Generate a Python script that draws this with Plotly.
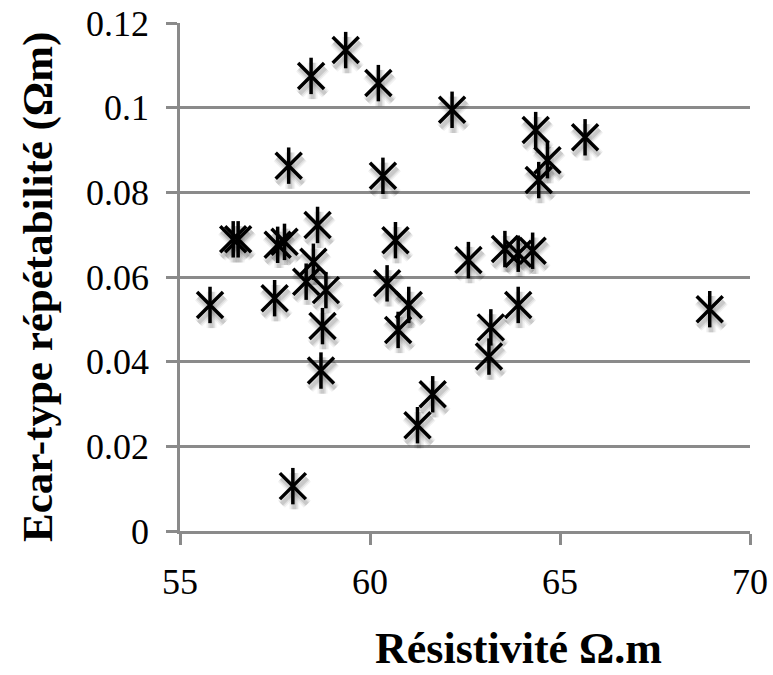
import plotly.graph_objects as go

# Résistivité (Ω.m) et écart-type de répétabilité (Ω.m) par mesure
resistivite = [
    58.45, 59.36, 60.22, 62.16, 57.86, 60.34,
    56.40, 56.53, 57.57, 57.75, 58.62, 58.51, 60.67, 62.59,
    64.36, 65.66, 64.67, 64.44, 63.55, 63.90, 64.28,
    55.79, 57.49, 58.32, 58.84, 58.75, 58.71, 57.97,
    60.45, 61.02, 60.74, 61.65, 61.25,
    63.90, 63.18, 63.13, 68.94,
]
ecart_type = [
    0.1075, 0.1136, 0.1058, 0.0995, 0.0863, 0.0839,
    0.0689, 0.0689, 0.0676, 0.0683, 0.0723, 0.0636, 0.0687, 0.0640,
    0.0947, 0.0930, 0.0876, 0.0829, 0.0666, 0.0655, 0.0662,
    0.0534, 0.0550, 0.0589, 0.0569, 0.0484, 0.0379, 0.0106,
    0.0585, 0.0534, 0.0475, 0.0323, 0.0250,
    0.0534, 0.0481, 0.0412, 0.0524,
]

x_range = [55, 70]
y_range = [0, 0.12]
x_ticks = [55, 60, 65, 70]
y_ticks = [0, 0.02, 0.04, 0.06, 0.08, 0.1, 0.12]
y_ticktext = ["0", "0.02", "0.04", "0.06", "0.08", "0.1", "0.12"]

W, H = 773, 675
M = dict(l=180, r=23, t=23, b=144)
plot_w = W - M["l"] - M["r"]
plot_h = H - M["t"] - M["b"]

GREY = "#8a8a8a"
FONT = "Liberation Serif, Times New Roman, serif"
STAR_SIZE = 26

fig = go.Figure()

# soft drop shadow: same points on overlaid axes shifted a few pixels
dx_px, dy_px = 1.5, 5.0
dx = dx_px * (x_range[1] - x_range[0]) / plot_w
dy = dy_px * (y_range[1] - y_range[0]) / plot_h
for width, alpha in [(10, 0.05), (7, 0.07), (4, 0.10)]:
    for sym in ["x-thin-open", "line-ns-open"]:
        shade = f"rgba(0,0,0,{alpha})"
        fig.add_trace(go.Scatter(
            x=resistivite, y=ecart_type, mode="markers",
            xaxis="x2", yaxis="y2", hoverinfo="skip", showlegend=False,
            marker=dict(symbol=sym, size=STAR_SIZE, color=shade,
                        line=dict(width=width, color=shade)),
        ))

# star markers: an X plus a vertical bar
for sym in ["x-thin-open", "line-ns-open"]:
    fig.add_trace(go.Scatter(
        x=resistivite, y=ecart_type, mode="markers", showlegend=False,
        marker=dict(symbol=sym, size=STAR_SIZE, color="black",
                    line=dict(width=3.5, color="black")),
        cliponaxis=False,
    ))

fig.update_layout(
    width=W, height=H, margin=M,
    paper_bgcolor="white", plot_bgcolor="white",
    font=dict(family=FONT, size=36, color="black"),
    xaxis=dict(
        range=x_range, tickvals=x_ticks, showgrid=False, zeroline=False,
        showline=True, linecolor=GREY, linewidth=2.5, automargin=False,
        ticks="outside", ticklen=11, tickwidth=2.5, tickcolor=GREY,
        ticklabelstandoff=6,
        tickfont=dict(family=FONT, size=36, color="black"),
    ),
    yaxis=dict(
        range=y_range, tickvals=y_ticks, ticktext=y_ticktext,
        showgrid=True, gridcolor=GREY, gridwidth=2.5, zeroline=False,
        showline=True, linecolor=GREY, linewidth=2.5, automargin=False,
        ticks="outside", ticklen=11, tickwidth=2.5, tickcolor=GREY,
        ticklabelstandoff=10,
        tickfont=dict(family=FONT, size=36, color="black"),
    ),
    xaxis2=dict(range=[x_range[0] - dx, x_range[1] - dx], overlaying="x",
                visible=False, fixedrange=True),
    yaxis2=dict(range=[y_range[0] + dy, y_range[1] + dy], overlaying="y",
                visible=False, fixedrange=True),
    annotations=[
        dict(text="<b>Résistivité Ω.m</b>", xref="paper", yref="paper",
             x=(518 - M["l"]) / plot_w, y=-(648 - (H - M["b"])) / plot_h,
             xanchor="center", yanchor="middle", showarrow=False,
             font=dict(family=FONT, size=44, color="black")),
        dict(text="<b>Ecar-type répétabilité (Ωm)</b>", xref="paper", yref="paper",
             x=-(M["l"] - 38) / plot_w, y=1 - (287 - M["t"]) / plot_h,
             xanchor="center", yanchor="middle", textangle=-90, showarrow=False,
             font=dict(family=FONT, size=43, color="black")),
    ],
)

fig.write_html("out.html")
